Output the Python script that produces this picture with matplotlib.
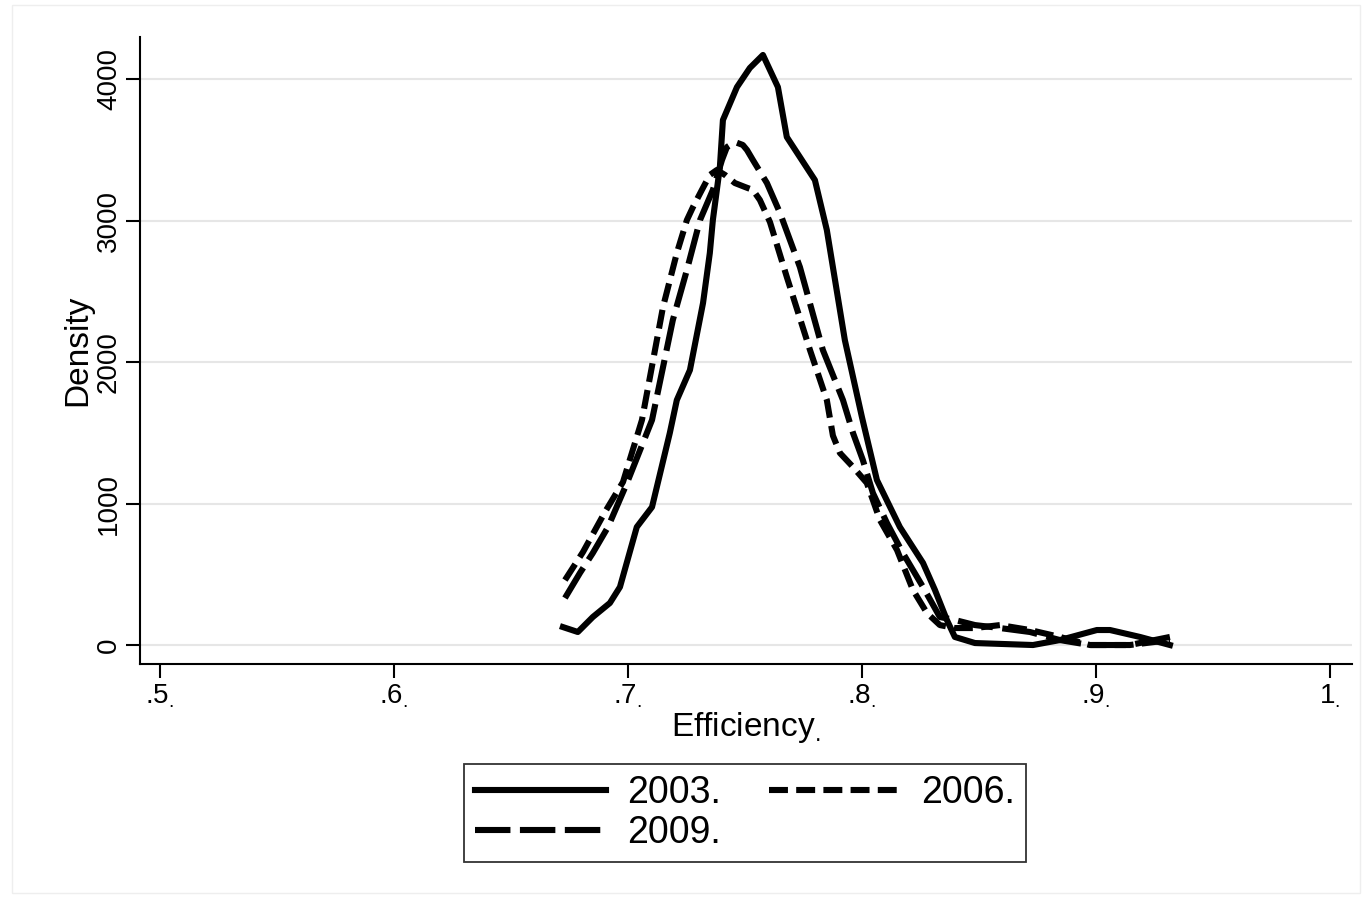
import matplotlib
matplotlib.use("Agg")
import matplotlib.pyplot as plt
from matplotlib.patches import Rectangle

plt.rcParams.update({
    "font.family": ["Liberation Sans", "DejaVu Sans"],
    "mathtext.fontset": "custom",
    "mathtext.rm": "Liberation Sans",
})

# kernel density curves
x_2003 = [.6722, .6786, .6850, .6923, .6966, .7038, .7103, .7179, .7209, .7265,
          .7321, .7350, .7363, .7393, .7406, .7466, .7521, .7577, .7641, .7679,
          .7799, .7850, .7927, .8000, .8064, .8162, .8261, .8312, .8363, .8397,
          .8483, .8731, .8846, .9004, .9060, .9188, .9316]
d_2003 = [127, 92, 198, 297, 410, 834, 975, 1498, 1731, 1943,
          2417, 2770, 3003, 3378, 3710, 3943, 4078, 4170, 3943, 3590,
          3286, 2933, 2155, 1611, 1166, 834, 580, 389, 177, 57,
          14, 0, 35, 106, 106, 57, 0]

x_2006 = [.6731, .6808, .6902, .6979, .7060, .7150, .7209, .7252, .7278, .7316,
          .7350, .7380, .7415, .7457, .7500, .7534, .7564, .7607, .7679, .7778,
          .7850, .7876, .7906, .7962, .8021, .8077, .8150, .8218, .8278, .8333,
          .8397, .8483, .8590, .8718, .8846, .8974, .9145, .9316]
d_2006 = [459, 657, 940, 1152, 1590, 2389, 2770, 3003, 3095, 3216,
          3322, 3357, 3322, 3265, 3237, 3216, 3145, 2989, 2601, 2085,
          1731, 1480, 1357, 1258, 1145, 883, 671, 389, 226, 141,
          120, 120, 141, 106, 57, 0, 0, 35]

x_2009 = [.6731, .6795, .6850, .6915, .6996, .7103, .7192, .7252, .7308, .7363,
          .7402, .7423, .7457, .7491, .7509, .7534, .7594, .7650, .7735, .7833,
          .7919, .7962, .8004, .8047, .8107, .8175, .8261, .8333, .8397, .8483,
          .8590, .8718, .8846, .8974, .9145, .9316]
d_2009 = [332, 509, 650, 834, 1145, 1590, 2297, 2650, 3003, 3216,
          3428, 3519, 3555, 3534, 3498, 3428, 3265, 3053, 2671, 2085,
          1731, 1498, 1307, 1074, 862, 650, 410, 198, 177, 141,
          120, 92, 35, 0, 0, 57]

x_ticks = [.5, .6, .7, .8, .9, 1.0]
x_labels = [".5", ".6", ".7", ".8", ".9", "1"]
y_ticks = [0, 1000, 2000, 3000, 4000]

fig = plt.figure(figsize=(13.67, 8.98), dpi=100)
ax = fig.add_axes([0.1024, 0.2606, 0.8866, 0.6982])

lw = 4.4
l03, = ax.plot(x_2003, d_2003, color="black", lw=lw, solid_joinstyle="round",
               label="2003.")
l06, = ax.plot(x_2006, d_2006, color="black", lw=lw, dashes=(3.1, 1.35),
               label="2006.")
l09, = ax.plot(x_2009, d_2009, color="black", lw=lw, dashes=(5.8, 1.55),
               label="2009.")

ax.set_xlim(0.4915, 1.0094)
ax.set_ylim(-134, 4297)
ax.set_xticks(x_ticks)
ax.set_xticklabels([s + r"$\mathregular{_.}$" for s in x_labels], fontsize=20)
ax.set_yticks(y_ticks)
ax.set_yticklabels([str(v) for v in y_ticks], fontsize=20, rotation=90,
                   va="center")
ax.tick_params(axis="both", length=10, width=1.5, color="black", pad=3)
ax.yaxis.grid(True, color="#e6e6e6", lw=1.5)
ax.set_axisbelow(True)
for side in ("top", "right"):
    ax.spines[side].set_visible(False)
for side in ("left", "bottom"):
    ax.spines[side].set_linewidth(1.5)

ax.set_xlabel(r"Efficiency$\mathregular{_.}$", fontsize=24, labelpad=0)
ax.set_ylabel("Density", fontsize=24, labelpad=2)

# order so that rows read 2003, 2006 / 2009
leg = fig.legend([l03, l09, l06], ["2003.", "2009.", "2006."],
                 loc="upper center", bbox_to_anchor=(745 / 1367, 1 - 745 / 898),
                 ncol=2, fontsize=27, frameon=True, fancybox=False,
                 handlelength=3.5, columnspacing=1.3, handletextpad=0.55,
                 borderpad=0.3, labelspacing=0.1)
leg.get_frame().set_edgecolor("black")
leg.get_frame().set_linewidth(1.3)

# thin outer frame of the graph region
fig.patches.append(Rectangle((12 / 1367, 5 / 898), 1348 / 1367, 888 / 898,
                             transform=fig.transFigure, fill=False,
                             edgecolor="#eeeeee", lw=1))

fig.savefig("out.png", dpi=100)
